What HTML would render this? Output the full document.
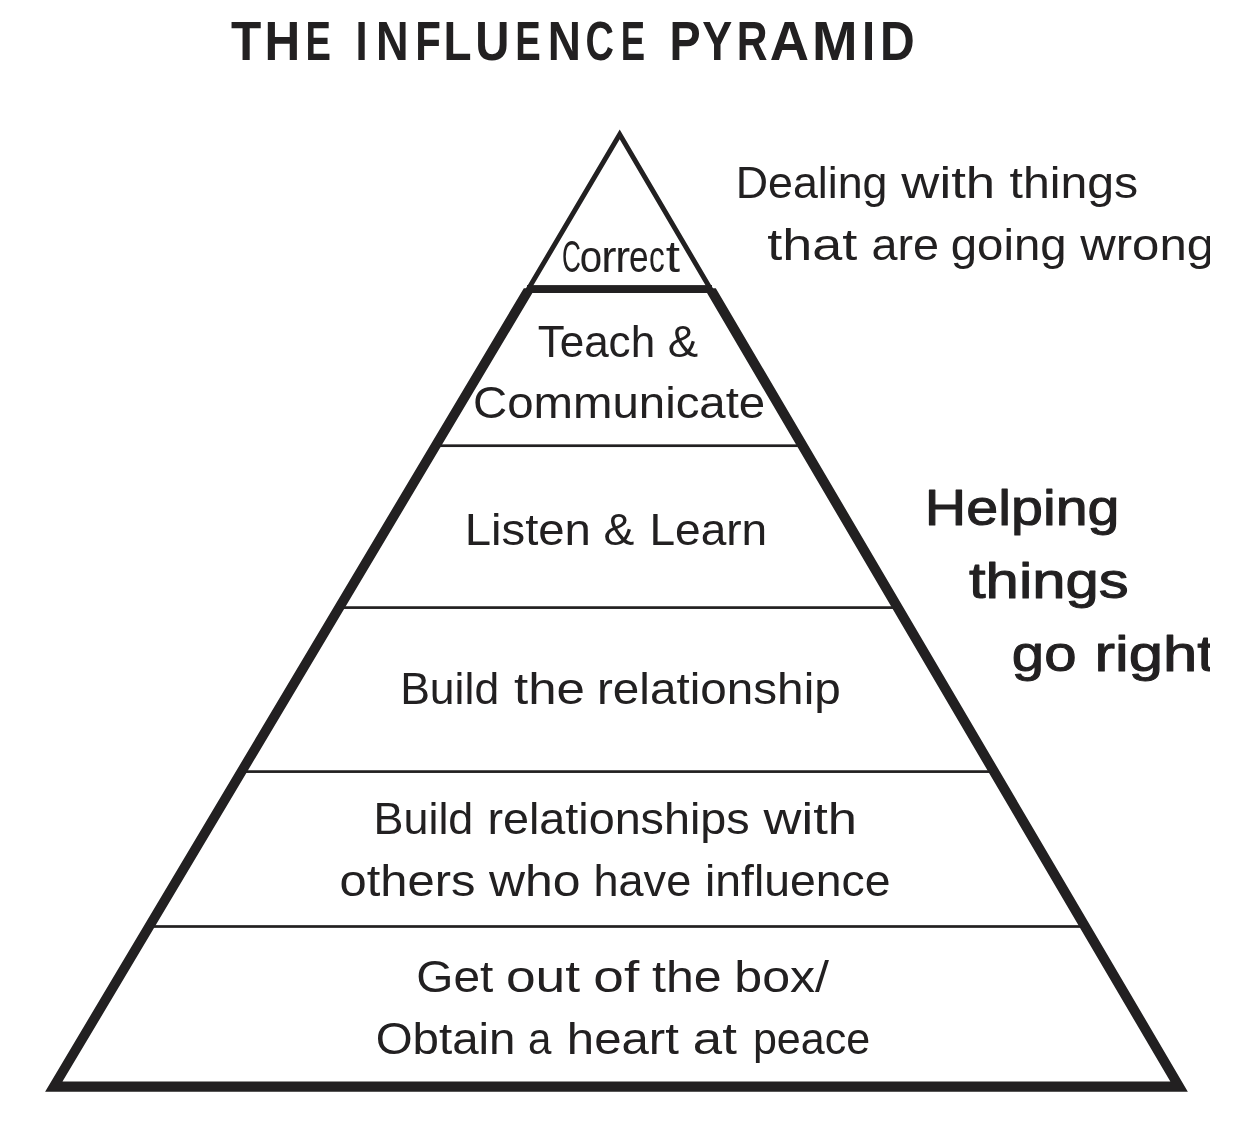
<!DOCTYPE html>
<html>
<head>
<meta charset="utf-8">
<style>
html,body{margin:0;padding:0;background:#fff;}
body{width:1254px;height:1136px;overflow:hidden;}
svg{display:block;will-change:transform;}
text{font-family:"Liberation Sans",sans-serif;fill:#222021;}
</style>
</head>
<body>
<svg width="1254" height="1136" viewBox="0 0 1254 1136">
<defs>
<clipPath id="clip"><rect x="0" y="0" width="1210" height="1136"/></clipPath>
</defs>
<g id="pyr" fill="#222021">
<!-- thin top triangle -->
<path fill-rule="evenodd" d="M619.7 129.6 L713.4 289 L525.5 289 Z M619.7 139.3 L531.2 289 L707.7 289 Z"/>
<!-- thick band -->
<path fill-rule="evenodd" d="M523.83 288.2 L715.82 288.2 L1187.84 1091.65 L45.10 1091.65 Z M535.23 288.2 L704.22 288.2 L1170.34 1081.6 L62.49 1081.6 Z"/>
<!-- top bar -->
<rect x="527" y="285.1" width="185" height="7.9"/>
<!-- thin horizontal lines -->
<rect x="436.4" y="444.35" width="365.4" height="2.7"/>
<rect x="339.9" y="606.25" width="556.9" height="2.7"/>
<rect x="242.2" y="770.25" width="751.0" height="2.7"/>
<rect x="149.9" y="925.15" width="934.3" height="2.7"/>
</g>
<g id="txt">
<text id="t0" x="230.92" y="59.60" style="font-size:54.6px;font-weight:bold" textLength="30.27" lengthAdjust="spacingAndGlyphs">T</text>
<text id="t1" x="264.62" y="59.60" style="font-size:54.6px;font-weight:bold" textLength="35.69" lengthAdjust="spacingAndGlyphs">H</text>
<text id="t2" x="305.60" y="59.60" style="font-size:54.6px;font-weight:bold" textLength="25.44" lengthAdjust="spacingAndGlyphs">E</text>
<text id="t3" x="355.53" y="59.60" style="font-size:54.6px;font-weight:bold" textLength="12.12" lengthAdjust="spacingAndGlyphs">I</text>
<text id="t4" x="375.90" y="59.60" style="font-size:54.6px;font-weight:bold" textLength="32.59" lengthAdjust="spacingAndGlyphs">N</text>
<text id="t5" x="415.22" y="59.60" style="font-size:54.6px;font-weight:bold" textLength="25.64" lengthAdjust="spacingAndGlyphs">F</text>
<text id="t6" x="443.57" y="59.60" style="font-size:54.6px;font-weight:bold" textLength="28.05" lengthAdjust="spacingAndGlyphs">L</text>
<text id="t7" x="475.17" y="59.60" style="font-size:54.6px;font-weight:bold" textLength="34.20" lengthAdjust="spacingAndGlyphs">U</text>
<text id="t8" x="515.20" y="59.60" style="font-size:54.6px;font-weight:bold" textLength="25.51" lengthAdjust="spacingAndGlyphs">E</text>
<text id="t9" x="547.63" y="59.60" style="font-size:54.6px;font-weight:bold" textLength="33.17" lengthAdjust="spacingAndGlyphs">N</text>
<text id="t10" x="585.47" y="59.60" style="font-size:54.6px;font-weight:bold" textLength="28.47" lengthAdjust="spacingAndGlyphs">C</text>
<text id="t11" x="620.84" y="59.60" style="font-size:54.6px;font-weight:bold" textLength="24.33" lengthAdjust="spacingAndGlyphs">E</text>
<text id="t12" x="669.44" y="59.60" style="font-size:54.6px;font-weight:bold" textLength="31.11" lengthAdjust="spacingAndGlyphs">P</text>
<text id="t13" x="702.27" y="59.60" style="font-size:54.6px;font-weight:bold" textLength="29.99" lengthAdjust="spacingAndGlyphs">Y</text>
<text id="t14" x="736.67" y="59.60" style="font-size:54.6px;font-weight:bold" textLength="30.76" lengthAdjust="spacingAndGlyphs">R</text>
<text id="t15" x="769.68" y="59.60" style="font-size:54.6px;font-weight:bold" textLength="39.29" lengthAdjust="spacingAndGlyphs">A</text>
<text id="t16" x="812.10" y="59.60" style="font-size:54.6px;font-weight:bold" textLength="45.58" lengthAdjust="spacingAndGlyphs">M</text>
<text id="t17" x="862.11" y="59.60" style="font-size:54.6px;font-weight:bold" textLength="13.21" lengthAdjust="spacingAndGlyphs">I</text>
<text id="t18" x="879.88" y="59.60" style="font-size:54.6px;font-weight:bold" textLength="34.70" lengthAdjust="spacingAndGlyphs">D</text>
<text id="t19" x="562.00" y="271.90" style="font-size:44px" textLength="18.86" lengthAdjust="spacingAndGlyphs">C</text>
<text id="t20" x="579.64" y="271.90" style="font-size:44px" textLength="22.38" lengthAdjust="spacingAndGlyphs">o</text>
<text id="t21" x="601.28" y="271.90" style="font-size:44px" textLength="15.21" lengthAdjust="spacingAndGlyphs">r</text>
<text id="t22" x="615.21" y="271.90" style="font-size:44px" textLength="14.88" lengthAdjust="spacingAndGlyphs">r</text>
<text id="t23" x="628.95" y="271.90" style="font-size:44px" textLength="19.51" lengthAdjust="spacingAndGlyphs">e</text>
<text id="t24" x="649.12" y="271.90" style="font-size:44px" textLength="15.72" lengthAdjust="spacingAndGlyphs">c</text>
<text id="t25" x="665.82" y="271.90" style="font-size:44px" textLength="14.28" lengthAdjust="spacingAndGlyphs">t</text>
<text id="t26" x="735.76" y="198.10" style="font-size:44.7px" textLength="151.69" lengthAdjust="spacingAndGlyphs">Dealing</text>
<text id="t27" x="901.36" y="198.10" style="font-size:44.7px" textLength="93.73" lengthAdjust="spacingAndGlyphs">with</text>
<text id="t28" x="1009.54" y="198.10" style="font-size:44.7px" textLength="128.71" lengthAdjust="spacingAndGlyphs">things</text>
<text id="t29" x="767.35" y="259.60" style="font-size:44.7px" textLength="89.98" lengthAdjust="spacingAndGlyphs">that</text>
<text id="t30" x="871.40" y="259.60" style="font-size:44.7px" textLength="67.55" lengthAdjust="spacingAndGlyphs">are</text>
<text id="t31" x="950.75" y="259.60" style="font-size:44.7px" textLength="115.89" lengthAdjust="spacingAndGlyphs">going</text>
<text id="t32" x="1080.29" y="259.60" style="font-size:44.7px" textLength="133.80" lengthAdjust="spacingAndGlyphs" clip-path="url(#clip)">wrong</text>
<text id="t33" x="537.64" y="357.20" style="font-size:44.7px" textLength="117.51" lengthAdjust="spacingAndGlyphs">Teach</text>
<text id="t34" x="667.85" y="357.20" style="font-size:44.7px" textLength="30.40" lengthAdjust="spacingAndGlyphs">&amp;</text>
<text id="t35" x="472.95" y="417.80" style="font-size:44.7px" textLength="292.28" lengthAdjust="spacingAndGlyphs">Communicate</text>
<text id="t36" x="464.71" y="544.80" style="font-size:44.7px" textLength="126.20" lengthAdjust="spacingAndGlyphs">Listen</text>
<text id="t37" x="603.64" y="544.80" style="font-size:44.7px" textLength="30.80" lengthAdjust="spacingAndGlyphs">&amp;</text>
<text id="t38" x="649.45" y="544.80" style="font-size:44.7px" textLength="117.73" lengthAdjust="spacingAndGlyphs">Learn</text>
<text id="t39" x="400.19" y="703.80" style="font-size:44.7px" textLength="98.96" lengthAdjust="spacingAndGlyphs">Build</text>
<text id="t40" x="513.98" y="703.80" style="font-size:44.7px" textLength="70.88" lengthAdjust="spacingAndGlyphs">the</text>
<text id="t41" x="597.00" y="703.80" style="font-size:44.7px" textLength="243.72" lengthAdjust="spacingAndGlyphs">relationship</text>
<text id="t42" x="373.49" y="833.50" style="font-size:44.7px" textLength="99.86" lengthAdjust="spacingAndGlyphs">Build</text>
<text id="t43" x="487.40" y="833.50" style="font-size:44.7px" textLength="262.29" lengthAdjust="spacingAndGlyphs">relationships</text>
<text id="t44" x="763.64" y="833.50" style="font-size:44.7px" textLength="93.40" lengthAdjust="spacingAndGlyphs">with</text>
<text id="t45" x="339.54" y="895.60" style="font-size:44.7px" textLength="135.84" lengthAdjust="spacingAndGlyphs">others</text>
<text id="t46" x="489.02" y="895.60" style="font-size:44.7px" textLength="91.57" lengthAdjust="spacingAndGlyphs">who</text>
<text id="t47" x="593.52" y="895.60" style="font-size:44.7px" textLength="97.68" lengthAdjust="spacingAndGlyphs">have</text>
<text id="t48" x="705.04" y="895.60" style="font-size:44.7px" textLength="185.39" lengthAdjust="spacingAndGlyphs">influence</text>
<text id="t49" x="416.39" y="991.50" style="font-size:44.7px" textLength="76.95" lengthAdjust="spacingAndGlyphs">Get</text>
<text id="t50" x="505.92" y="991.50" style="font-size:44.7px" textLength="74.17" lengthAdjust="spacingAndGlyphs">out</text>
<text id="t51" x="593.37" y="991.50" style="font-size:44.7px" textLength="45.91" lengthAdjust="spacingAndGlyphs">of</text>
<text id="t52" x="652.04" y="991.50" style="font-size:44.7px" textLength="69.65" lengthAdjust="spacingAndGlyphs">the</text>
<text id="t53" x="734.27" y="991.50" style="font-size:44.7px" textLength="94.74" lengthAdjust="spacingAndGlyphs">box/</text>
<text id="t54" x="375.69" y="1053.80" style="font-size:44.7px" textLength="139.84" lengthAdjust="spacingAndGlyphs">Obtain</text>
<text id="t55" x="528.01" y="1053.80" style="font-size:44.7px" textLength="23.38" lengthAdjust="spacingAndGlyphs">a</text>
<text id="t56" x="566.86" y="1053.80" style="font-size:44.7px" textLength="111.98" lengthAdjust="spacingAndGlyphs">heart</text>
<text id="t57" x="692.85" y="1053.80" style="font-size:44.7px" textLength="44.03" lengthAdjust="spacingAndGlyphs">at</text>
<text id="t58" x="752.90" y="1053.80" style="font-size:44.7px" textLength="117.17" lengthAdjust="spacingAndGlyphs">peace</text>
<text id="t59" x="924.88" y="524.70" style="font-size:49.2px;stroke:#222021;stroke-width:1.0px;stroke-linejoin:round" textLength="194.66" lengthAdjust="spacingAndGlyphs">Helping</text>
<text id="t60" x="969.00" y="597.90" style="font-size:49.2px;stroke:#222021;stroke-width:1.0px;stroke-linejoin:round" textLength="159.68" lengthAdjust="spacingAndGlyphs">things</text>
<text id="t61" x="1011.88" y="671.40" style="font-size:49.2px;stroke:#222021;stroke-width:1.0px;stroke-linejoin:round" textLength="64.65" lengthAdjust="spacingAndGlyphs">go</text>
<text id="t62" x="1094.48" y="671.40" style="font-size:49.2px;stroke:#222021;stroke-width:1.0px;stroke-linejoin:round" textLength="119.97" lengthAdjust="spacingAndGlyphs" clip-path="url(#clip)">right</text>
</g>
</svg>
</body>
</html>
